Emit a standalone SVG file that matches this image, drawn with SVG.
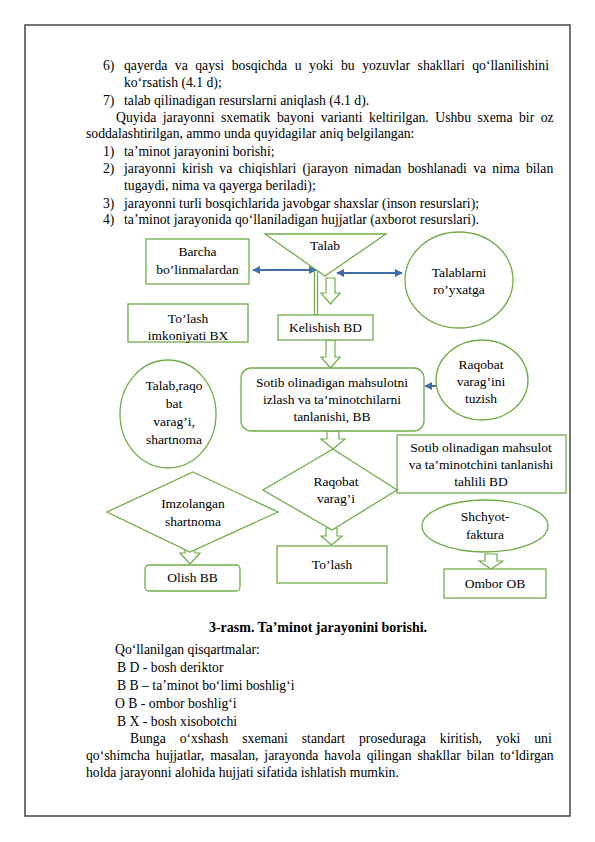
<svg xmlns="http://www.w3.org/2000/svg" width="595" height="842" viewBox="0 0 595 842">
<style>
.t{font-family:"Liberation Serif","Times New Roman",serif;font-size:13.7px;fill:#000}
.d{font-family:"Liberation Serif","Times New Roman",serif;font-size:13.5px;fill:#000;text-anchor:middle}
.b{font-family:"Liberation Serif","Times New Roman",serif;font-size:14px;font-weight:bold;fill:#000;text-anchor:middle}
.s{fill:#fff;stroke:#70AD47;stroke-width:1.3}
.ba{fill:#fff;stroke:#70AD47;stroke-width:1.2;stroke-linejoin:miter}
.bl{fill:none;stroke:#3F6FA6;stroke-width:2}
</style>
<defs>
<marker id="ah" viewBox="0 0 10 10" refX="9" refY="5" markerWidth="4" markerHeight="4" orient="auto-start-reverse" markerUnits="strokeWidth">
<path d="M0,0 L10,5 L0,10 Z" fill="#3F6FA6"/>
</marker>
</defs>
<rect x="25" y="25" width="545" height="791" fill="#fff" stroke="#444" stroke-width="1.5"/>
<g id="text-top">
<text class="t" x="103" y="70">6)</text>
<text class="t" x="124" y="70" word-spacing="4.1">qayerda va qaysi bosqichda u yoki bu yozuvlar shakllari qo‘llanilishini</text>
<text class="t" x="124" y="87">ko‘rsatish (4.1 d);</text>
<text class="t" x="103" y="105">7)</text>
<text class="t" x="124" y="105">talab qilinadigan resurslarni aniqlash (4.1 d).</text>
<text class="t" x="116" y="122" word-spacing="3.1">Quyida jarayonni sxematik bayoni varianti keltirilgan. Ushbu sxema bir oz</text>
<text class="t" x="86" y="138">soddalashtirilgan, ammo unda quyidagilar aniq belgilangan:</text>
<text class="t" x="103" y="156">1)</text>
<text class="t" x="124" y="156">ta’minot jarayonini borishi;</text>
<text class="t" x="103" y="173">2)</text>
<text class="t" x="124" y="173" word-spacing="2.8">jarayonni kirish va chiqishlari (jarayon nimadan boshlanadi va nima bilan</text>
<text class="t" x="124" y="190">tugaydi, nima va qayerga beriladi);</text>
<text class="t" x="103" y="208">3)</text>
<text class="t" x="124" y="208">jarayonni turli bosqichlarida javobgar shaxslar (inson resurslari);</text>
<text class="t" x="103" y="224">4)</text>
<text class="t" x="124" y="224">ta’minot jarayonida qo‘llaniladigan hujjatlar (axborot resurslari).</text>
</g>
<g id="connectors">
<rect class="s" x="314.5" y="270" width="3" height="45"/>
<line class="bl" x1="253" y1="270" x2="316" y2="270" marker-start="url(#ah)" marker-end="url(#ah)"/>
<line class="bl" x1="337" y1="273" x2="402" y2="273" marker-start="url(#ah)" marker-end="url(#ah)"/>
<line class="bl" x1="436" y1="386" x2="425" y2="386" marker-end="url(#ah)"/>
<path class="ba" d="M326,278 L335,278 L335,293 L340,293 L330.5,304 L321,293 L326,293 Z"/>
<path class="ba" d="M326,340 L335,340 L335,357 L340,357 L330.5,368 L321,357 L326,357 Z"/>
<path class="ba" d="M327,431 L339,431 L339,439 L345,439 L333,449 L321,439 L327,439 Z"/>
<path class="ba" d="M326,528 L337,528 L337,536 L342,536 L331.5,545 L321,536 L326,536 Z"/>
<path class="ba" d="M185,543 L195,543 L195,553 L200,553 L190,564 L180,553 L185,553 Z"/>
<path class="ba" d="M485,554 L497,554 L497,561 L503,561 L491,569 L479,561 L485,561 Z"/>
</g>
<g id="barcha">
<rect class="s" x="146" y="239" width="103" height="45"/>
<text class="d" x="197.5" y="256">Barcha</text>
<text class="d" x="197.5" y="274">bo’linmalardan</text>
</g>
<g id="talab">
<path class="s" d="M265,234 L386,234 L325,276 Z"/>
<text class="d" x="325" y="250">Talab</text>
</g>
<g id="talablarni">
<ellipse class="s" cx="459" cy="280" rx="54" ry="48"/>
<text class="d" x="459" y="277">Talablarni</text>
<text class="d" x="459" y="294">ro’yxatga</text>
</g>
<g id="tolash-imkoniyati">
<rect class="s" x="128" y="304" width="120" height="38"/>
<text class="d" x="188" y="323">To’lash</text>
<text class="d" x="188" y="340">imkoniyati BX</text>
</g>
<g id="kelishish">
<rect class="s" x="278" y="315" width="95" height="25"/>
<text class="d" x="325.5" y="332">Kelishish BD</text>
</g>
<g id="talab-raqobat">
<ellipse class="s" cx="168" cy="414" rx="48" ry="54"/>
<text class="d" x="174" y="390">Talab,raqo</text>
<text class="d" x="174" y="408">bat</text>
<text class="d" x="174" y="426">varag’i,</text>
<text class="d" x="174" y="444">shartnoma</text>
</g>
<g id="sotib">
<rect class="s" x="241" y="368" width="183" height="63" rx="10"/>
<text class="d" x="332" y="387">Sotib olinadigan mahsulotni</text>
<text class="d" x="332" y="404">izlash va ta’minotchilarni</text>
<text class="d" x="332" y="421">tanlanishi, BB</text>
</g>
<g id="raqobat-tuzish">
<ellipse class="s" cx="482" cy="380" rx="46" ry="40"/>
<text class="d" x="481" y="369">Raqobat</text>
<text class="d" x="481" y="386">varag’ini</text>
<text class="d" x="481" y="403">tuzish</text>
</g>
<g id="tahlil">
<rect class="s" x="397" y="435" width="169" height="58"/>
<text class="d" x="481" y="452">Sotib olinadigan mahsulot</text>
<text class="d" x="481" y="469">va ta’minotchini tanlanishi</text>
<text class="d" x="481" y="486">tahlili BD</text>
</g>
<g id="raqobat-varagi">
<path class="s" d="M333,449 L397,490 L332,530 L263,490 Z"/>
<text class="d" x="336" y="486">Raqobat</text>
<text class="d" x="336" y="503">varag’i</text>
</g>
<g id="imzolangan">
<path class="s" d="M193,472 L278,512 L190,552 L107,512 Z"/>
<text class="d" x="193" y="508">Imzolangan</text>
<text class="d" x="193" y="526">shartnoma</text>
</g>
<g id="shchyot">
<ellipse class="s" cx="485" cy="526" rx="63" ry="26"/>
<text class="d" x="485" y="521">Shchyot-</text>
<text class="d" x="485" y="539">faktura</text>
</g>
<g id="olish">
<rect class="s" x="145" y="565" width="95" height="26" rx="4"/>
<text class="d" x="192.5" y="582">Olish BB</text>
</g>
<g id="tolash">
<rect class="s" x="277" y="546" width="110" height="37"/>
<text class="d" x="332" y="569">To’lash</text>
</g>
<g id="ombor">
<rect class="s" x="444" y="569" width="102" height="29"/>
<text class="d" x="495" y="588">Ombor OB</text>
</g>
<g id="text-bottom">
<text class="b" x="318" y="632">3-rasm. Ta’minot jarayonini borishi.</text>
<text class="t" x="115" y="654">Qo‘llanilgan qisqartmalar:</text>
<text class="t" x="117" y="672">B D - bosh deriktor</text>
<text class="t" x="117" y="690">B B – ta’minot bo‘limi boshlig‘i</text>
<text class="t" x="115" y="708">O B - ombor boshlig‘i</text>
<text class="t" x="117" y="726">B X - bosh xisobotchi</text>
<text class="t" x="130" y="743" word-spacing="10.5">Bunga o‘xshash sxemani standart proseduraga kiritish, yoki uni</text>
<text class="t" x="86" y="760" word-spacing="2.5">qo‘shimcha hujjatlar, masalan, jarayonda havola qilingan shakllar bilan to‘ldirgan</text>
<text class="t" x="86" y="777">holda jarayonni alohida hujjati sifatida ishlatish mumkin.</text>
</g>
</svg>
